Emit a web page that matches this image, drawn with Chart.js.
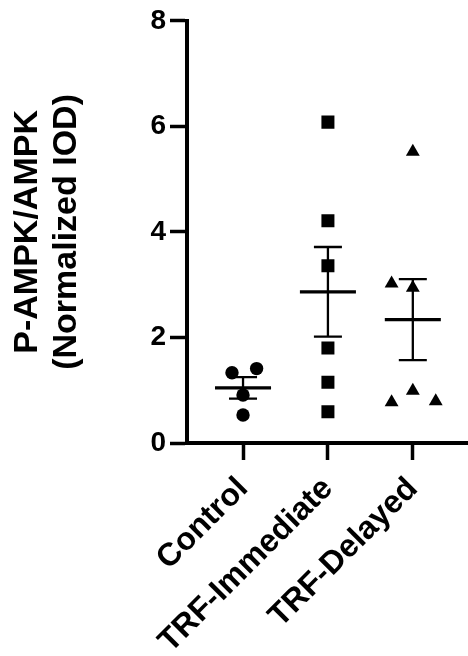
<!DOCTYPE html>
<html>
<head>
<meta charset="utf-8">
<script src="https://cdn.jsdelivr.net/npm/chart.js@4.4.1/dist/chart.umd.min.js"></script>
<style>
  html, body { margin: 0; padding: 0; background: #fff; overflow: hidden; }
  #wrap { width: 468px; height: 656px; position: relative; }
  canvas { display: block; }
</style>
</head>
<body>
<div id="wrap"><canvas id="c" width="468" height="656"></canvas></div>
<script>
const categories = ['Control', 'TRF-Immediate', 'TRF-Delayed'];
const controlValues = [1.33, 1.41, 0.91, 0.53];
const controlJitter = [-0.13, 0.16, 0, 0];
const immediateValues = [6.08, 4.21, 3.36, 1.80, 1.15, 0.59];
const immediateJitter = [0, 0, 0, 0, 0, 0];
const delayedValues = [5.52, 3.02, 2.94, 0.77, 0.99, 0.79];
const delayedJitter = [0, -0.25, 0, -0.25, 0, 0.27];
const yTicks = [0, 2, 4, 6, 8];
const yTitle = ['P-AMPK/AMPK', '(Normalized IOD)'];

const groups = [controlValues, immediateValues, delayedValues];
const jitters = [controlJitter, immediateJitter, delayedJitter];
const styles = ['circle', 'rect', 'triangle'];
const radii = [6.7, 9.2, 8];

function mean(a) { return a.reduce((s, v) => s + v, 0) / a.length; }
function sem(a) {
  const m = mean(a);
  const sd = Math.sqrt(a.reduce((s, v) => s + (v - m) * (v - m), 0) / (a.length - 1));
  return sd / Math.sqrt(a.length);
}

const MEAN_HALF = 0.33, CAP_HALF = 0.165;
const meanLine = [], errLine = [];
groups.forEach((g, i) => {
  const m = mean(g), e = sem(g);
  meanLine.push({x: i - MEAN_HALF, y: m}, {x: i + MEAN_HALF, y: m}, {x: i + 0.5, y: null});
  errLine.push({x: i, y: m - e}, {x: i, y: m + e}, {x: i + 0.01, y: null});
  errLine.push({x: i - CAP_HALF, y: m + e}, {x: i + CAP_HALF, y: m + e}, {x: i + 0.02, y: null});
  errLine.push({x: i - CAP_HALF, y: m - e}, {x: i + CAP_HALF, y: m - e}, {x: i + 0.03, y: null});
});

const pointSets = groups.map((g, i) => ({
  type: 'scatter',
  label: categories[i],
  data: g.map((v, k) => ({x: i + jitters[i][k], y: v})),
  pointStyle: styles[i],
  pointRadius: radii[i],
  pointHoverRadius: radii[i],
  backgroundColor: '#000',
  borderColor: '#000',
  borderWidth: 0,
  order: 3
}));

const FONT = "'Liberation Sans', Arial, Helvetica, sans-serif";
const PAD_LEFT = 8;

new Chart(document.getElementById('c'), {
  type: 'scatter',
  data: {
    datasets: [
      ...pointSets,
      { type: 'line', data: meanLine, borderColor: '#000', borderWidth: 3.3, pointRadius: 0, spanGaps: false, fill: false, order: 1, borderCapStyle: 'butt' },
      { type: 'line', data: errLine, borderColor: '#000', borderWidth: 2.3, pointRadius: 0, spanGaps: false, fill: false, order: 2, borderCapStyle: 'butt' }
    ]
  },
  options: {
    responsive: false,
    animation: false,
    events: [],
    layout: { autoPadding: false, padding: { left: PAD_LEFT, top: 19.5, right: 0, bottom: 0 } },
    plugins: { legend: { display: false }, tooltip: { enabled: false } },
    scales: {
      x: {
        type: 'linear',
        min: -0.66,
        max: 2.65,
        afterBuildTicks: (s) => { s.ticks = [0, 1, 2].map(v => ({value: v})); },
        afterFit: (s) => { s.height = 213; s.paddingLeft = 0; s.paddingRight = 0; },
        ticks: {
          autoSkip: false,
          maxRotation: 45,
          minRotation: 45,
          padding: 10,
          color: '#000',
          font: { family: FONT, size: 32, weight: 'bold' },
          callback: (v) => categories[v]
        },
        grid: { display: true, drawOnChartArea: false, drawTicks: true, tickLength: 17, tickWidth: 3.5, tickColor: '#000' },
        border: { display: true, color: '#000', width: 4 }
      },
      y: {
        type: 'linear',
        min: 0,
        max: 8,
        afterBuildTicks: (s) => { s.ticks = yTicks.map(v => ({value: v})); },
        afterFit: (s) => { s.width = 187 - PAD_LEFT; },
        ticks: {
          padding: 4,
          color: '#000',
          font: { family: FONT, size: 28, weight: 'bold' }
        },
        grid: { display: true, drawOnChartArea: false, drawTicks: true, tickLength: 17, tickWidth: 3.5, tickColor: '#000' },
        border: { display: true, color: '#000', width: 4 },
        title: {
          display: true,
          text: yTitle,
          color: '#000',
          font: { family: FONT, size: 34, weight: 'bold', lineHeight: 1.15 },
          padding: { top: 0, bottom: 0 }
        }
      }
    }
  }
});
</script>
</body>
</html>
